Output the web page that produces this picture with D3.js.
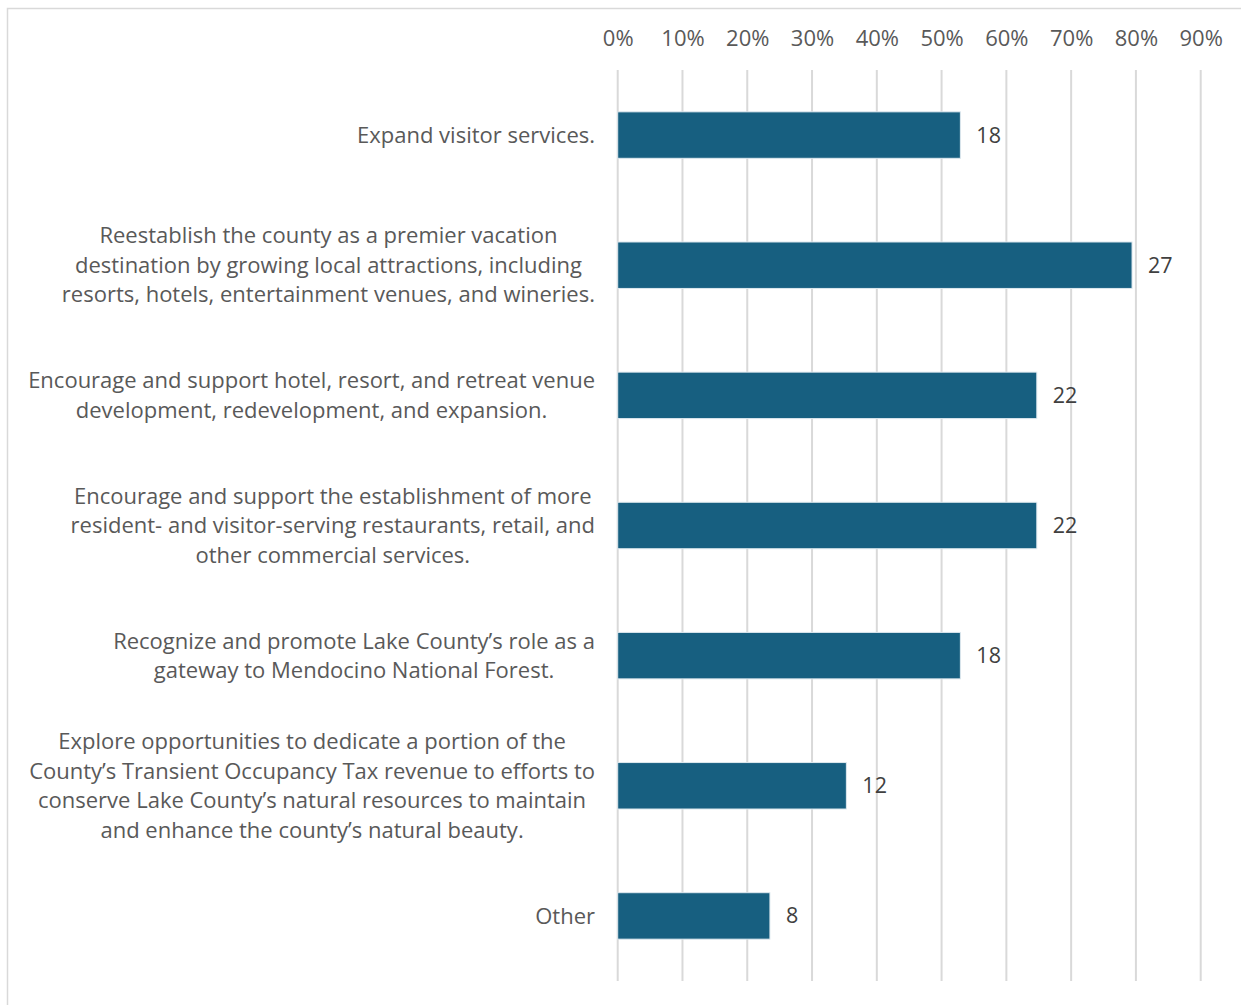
<!DOCTYPE html>
<html><head><meta charset="utf-8">
<script src="https://cdn.jsdelivr.net/npm/d3@7"></script>
<style>html,body{margin:0;padding:0;background:#fff;}svg{display:block;}</style>
</head><body>
<script>
const categories = [
  ["Expand visitor services."],
  ["Reestablish the county as a premier vacation", "destination by growing local attractions, including", "resorts, hotels, entertainment venues, and wineries."],
  ["Encourage and support hotel, resort, and retreat venue", "development, redevelopment, and expansion."],
  ["Encourage and support the establishment of more", "resident- and visitor-serving restaurants, retail, and", "other commercial services."],
  ["Recognize and promote Lake County\u2019s role as a", "gateway to Mendocino National Forest."],
  ["Explore opportunities to dedicate a portion of the", "County\u2019s Transient Occupancy Tax revenue to efforts to", "conserve Lake County\u2019s natural resources to maintain", "and enhance the county\u2019s natural beauty."],
  ["Other"]
];
const percents = [52.9, 79.4, 64.7, 64.7, 52.9, 35.3, 23.5];
const counts = [18, 27, 22, 22, 18, 12, 8];
const tickValues = [0, 10, 20, 30, 40, 50, 60, 70, 80, 90];

const W = 1241, H = 1005;
const font = "'Open Sans', sans-serif";
const svg = d3.select("body").append("svg").attr("width", W).attr("height", H);

svg.append("rect").attr("x", 7.5).attr("y", 8.5).attr("width", 1300).attr("height", 1100)
  .attr("fill", "#fff").attr("stroke", "#d9d9d9").attr("stroke-width", 1.5);

const x = d3.scaleLinear().domain([0, 90]).range([617.7, 1200.7]);
const y = d3.scaleBand().domain(d3.range(categories.length)).range([70, 981]).paddingInner(0.643).paddingOuter(0.3215);

// grid
svg.append("g").selectAll("line").data(tickValues).join("line")
  .attr("x1", d => x(d)).attr("x2", d => x(d))
  .attr("y1", 70).attr("y2", 981)
  .attr("stroke", "#d9d9d9").attr("stroke-width", 2);

// top axis labels
const ax = svg.append("g").attr("transform", "translate(0,38)")
  .call(d3.axisTop(x).tickValues(tickValues).tickFormat(d => d + "%").tickSize(0).tickPadding(0));
ax.select(".domain").remove();
ax.selectAll("text").attr("font-family", font).attr("font-size", 22).attr("fill", "#595959")
  .attr("dy", "0.35em");

// bars
svg.append("g").selectAll("rect").data(percents).join("rect")
  .attr("x", x(0)).attr("y", (d, i) => y(i))
  .attr("width", d => x(d) - x(0)).attr("height", y.bandwidth())
  .attr("fill", "#175f80").attr("stroke", "#dfe9ef").attr("stroke-width", 1);

// value labels
svg.append("g").selectAll("text").data(counts).join("text")
  .attr("x", (d, i) => x(percents[i]) + 16)
  .attr("y", (d, i) => y(i) + y.bandwidth() / 2)
  .attr("dy", "0.35em")
  .attr("font-family", font).attr("font-size", 21.5).attr("fill", "#404040")
  .text(d => d);

// category labels
const lineH = 29.5, rightEdge = 595;
categories.forEach((lines, i) => {
  const cy = y(i) + y.bandwidth() / 2;
  const g = svg.append("g");
  const texts = lines.map((t, j) => g.append("text")
    .attr("y", cy + (j - (lines.length - 1) / 2) * lineH)
    .attr("dy", "0.35em")
    .attr("font-family", font).attr("font-size", 22).attr("fill", "#595959")
    .attr("text-anchor", "middle").text(t));
  const maxW = d3.max(texts, t => t.node().getComputedTextLength());
  texts.forEach(t => t.attr("x", rightEdge - maxW / 2));
});
</script>
</body></html>
